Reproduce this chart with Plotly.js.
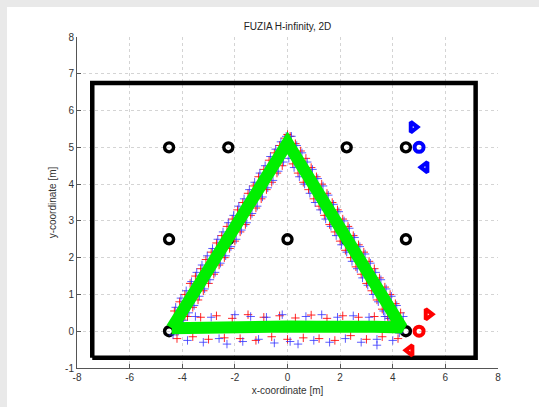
<!DOCTYPE html>
<html>
<head>
<meta charset="utf-8">
<script src="https://cdn.plot.ly/plotly-3.0.1.min.js"></script>
<style>
html,body{margin:0;padding:0;background:#e9e9e9;width:539px;height:407px;overflow:hidden;}
#plot{position:absolute;left:7px;top:7px;width:532px;height:400px;background:#fff;}
</style>
</head>
<body>
<div id="plot"></div>
<script>
// Boundary rectangle
const rectX = [-7.42, 7.15, 7.15, -7.42, -7.42];
const rectY = [-0.72, -0.72, 6.75, 6.75, -0.72];

// Black reference circles
const circX = [-4.5,-2.25,2.25,4.5, -4.5,-2.25,0,2.25,4.5, -4.5,4.5];
const circY = [5,5,5,5, 2.5,2.5,2.5,2.5,2.5, 0,0];

// Red measurements (+)
const redX = [-4.3,-4.2,-4.1,-4.0,-3.9,-3.8,-3.7,-3.6,-3.5,-3.4,-3.3,-3.2,-3.1,-3.0,-2.9,-2.8,-2.7,-2.6,-2.5,-2.4,-2.3,-2.2,-2.1,-2.0,-1.9,-1.8,-1.7,-1.6,-1.5,-1.4,-1.3,-1.2,-1.1,-1.0,-0.9,-0.8,-0.7,-0.6,-0.5,-0.4,-0.3,-0.2,-0.1,0.0,
  0.1,0.2,0.3,0.4,0.5,0.6,0.7,0.8,0.9,1.0,1.1,1.2,1.3,1.4,1.5,1.6,1.7,1.8,1.9,2.0,2.1,2.2,2.3,2.4,2.5,2.6,2.7,2.8,2.9,3.0,3.1,3.2,3.3,3.4,3.5,3.6,3.7,3.8,3.9,4.0,4.1,4.2,4.3,
  -4.2,-3.9,-3.6,-3.3,-3.0,-2.7,-2.4,-2.1,-1.8,-1.5,-1.2,-0.9,-0.6,-0.3,0.0,0.3,0.6,0.9,1.2,1.5,1.8,2.1,2.4,2.7,3.0,3.3,3.6,3.9,4.2];
const redY = [0.55,0.0,0.8,0.2,1.0,0.4,1.3,0.65,1.5,0.85,1.7,1.1,1.95,1.3,2.15,1.55,2.4,1.8,2.6,2.0,2.85,2.25,3.05,2.45,3.3,2.7,3.5,2.9,3.75,3.15,3.95,3.35,4.2,3.6,4.4,3.85,4.65,4.05,4.85,4.3,5.05,4.5,5.25,5.35,
  5.3,4.55,5.1,4.3,4.9,4.05,4.7,3.85,4.45,3.6,4.2,3.4,4.0,3.15,3.75,2.9,3.5,2.7,3.3,2.45,3.05,2.2,2.85,2.0,2.6,1.75,2.35,1.55,2.15,1.3,1.9,1.1,1.7,0.85,1.45,0.6,1.2,0.4,1.0,0.2,0.75,0.05,0.5,
  -0.2,0.4,-0.15,0.38,-0.22,0.42,-0.18,0.35,-0.2,0.45,-0.25,0.38,-0.15,0.42,-0.22,0.36,-0.18,0.44,-0.2,0.35,-0.25,0.42,-0.12,0.38,-0.22,0.4,-0.15,0.35,-0.2];

// Blue measurements (+)
const blueX = [-4.35,-4.25,-4.15,-4.05,-3.95,-3.85,-3.75,-3.65,-3.55,-3.45,-3.35,-3.25,-3.15,-3.05,-2.95,-2.85,-2.75,-2.65,-2.55,-2.45,-2.35,-2.25,-2.15,-2.05,-1.95,-1.85,-1.75,-1.65,-1.55,-1.45,-1.35,-1.25,-1.15,-1.05,-0.95,-0.85,-0.75,-0.65,-0.55,-0.45,-0.35,-0.25,-0.15,-0.05,
  0.05,0.15,0.25,0.35,0.45,0.55,0.65,0.75,0.85,0.95,1.05,1.15,1.25,1.35,1.45,1.55,1.65,1.75,1.85,1.95,2.05,2.15,2.25,2.35,2.45,2.55,2.65,2.75,2.85,2.95,3.05,3.15,3.25,3.35,3.45,3.55,3.65,3.75,3.85,3.95,4.05,4.15,4.25,4.4,
  -4.1,-3.8,-3.5,-3.2,-2.9,-2.6,-2.3,-2.0,-1.7,-1.4,-1.1,-0.8,-0.5,-0.2,0.1,0.4,0.7,1.0,1.3,1.6,1.9,2.2,2.5,2.8,3.1,3.4,3.4,3.7,4.0];
const blueY = [-0.1,0.65,0.0,0.9,0.3,1.1,0.5,1.35,0.7,1.6,0.95,1.8,1.15,2.05,1.4,2.25,1.6,2.5,1.85,2.7,2.05,2.95,2.3,3.15,2.5,3.4,2.75,3.6,2.95,3.85,3.2,4.05,3.4,4.3,3.65,4.5,3.9,4.75,4.1,4.95,4.35,5.15,4.6,5.3,
  4.7,5.3,4.45,5.05,4.2,4.85,4.0,4.6,3.75,4.4,3.5,4.15,3.3,3.95,3.05,3.7,2.85,3.45,2.6,3.25,2.35,3.0,2.15,2.8,1.9,2.55,1.7,2.3,1.45,2.1,1.25,1.85,1.0,1.6,0.8,1.4,0.55,1.15,0.35,0.95,0.1,0.7,-0.05,0.4,
  0.42,-0.25,0.4,-0.3,0.38,-0.2,-0.35,0.45,-0.28,0.4,-0.22,0.38,-0.32,0.45,-0.28,-0.35,0.4,-0.25,0.45,-0.3,0.38,-0.2,0.42,-0.3,0.38,-0.22,-0.38,0.4,-0.25];

// Estimated trajectory (green)
const pathX = [-4.4,-3.85,-3.3,-2.75,-2.2,-1.65,-1.1,-0.55,0.0,0.55,1.1,1.65,2.2,2.75,3.3,3.85,4.35,3.3,2.2,1.1,0.0,-1.1,-2.2,-3.3,-4.4];
const pathY = [0.08,0.72,1.35,1.95,2.6,3.2,3.85,4.5,5.12,4.48,3.85,3.2,2.58,1.95,1.3,0.68,0.1,0.12,0.08,0.12,0.13,0.1,0.1,0.12,0.08];

// Agent markers
const blueMX = [4.77, 5.0, 5.23];
const blueMY = [5.55, 5.0, 4.46];
const blueSym = ['triangle-right-open','circle-open','triangle-left-open'];
const redMX = [5.34, 5.0, 4.66];
const redMY = [0.46, 0.0, -0.52];
const redSym = ['triangle-right-open','circle-open','triangle-left-open'];

const xTicks = [-8,-6,-4,-2,0,2,4,6,8];
const yTicks = [-1,0,1,2,3,4,5,6,7,8];

const traces = [
  {x: rectX, y: rectY, mode:'lines', line:{color:'#000', width:4.5}, hoverinfo:'skip'},
  {x: circX, y: circY, mode:'markers', marker:{symbol:'circle-open', size:9, color:'#000', line:{width:3.4, color:'#000'}}},
  {x: redX, y: redY, mode:'markers', marker:{symbol:'cross-thin-open', size:6, color:'rgba(255,0,0,0.85)', line:{width:1, color:'rgba(255,0,0,0.85)'}}},
  {x: blueX, y: blueY, mode:'markers', marker:{symbol:'cross-thin-open', size:6, color:'rgba(50,50,255,0.8)', line:{width:1, color:'rgba(50,50,255,0.8)'}}},
  {x: pathX, y: pathY, mode:'lines', line:{color:'#00f000', width:12}},
  {x: blueMX, y: blueMY, mode:'markers', marker:{symbol:blueSym, size:9, color:'#0000ff', line:{width:4, color:'#0000ff'}}},
  {x: redMX, y: redMY, mode:'markers', marker:{symbol:redSym, size:9, color:'#ff0000', line:{width:4, color:'#ff0000'}}}
];

const axisCommon = {
  showline:true, linecolor:'#555', linewidth:1, mirror:false,
  showgrid:true, gridcolor:'#d4d4d4', griddash:'dot', gridwidth:1,
  zeroline:false, ticks:'inside', ticklen:4, tickcolor:'#555',
  tickfont:{family:'Liberation Sans, Arial, sans-serif', size:10, color:'#333'}
};

const layout = {
  width:532, height:400,
  paper_bgcolor:'#ffffff', plot_bgcolor:'#ffffff',
  margin:{l:70, r:41, t:30, b:39},
  showlegend:false,
  title:{text:'FUZIA H-infinity, 2D', font:{family:'Liberation Sans, Arial, sans-serif', size:10, color:'#222'},
         xref:'paper', x:0.5, xanchor:'center', yref:'container', y:0.952, yanchor:'middle'},
  xaxis: Object.assign({}, axisCommon, {range:[-8,8], tickvals:xTicks, ticktext:xTicks.map(String),
     title:{text:'x-coordinate [m]', font:{family:'Liberation Sans, Arial, sans-serif', size:10, color:'#333'}, standoff:4}}),
  yaxis: Object.assign({}, axisCommon, {range:[-1,8], tickvals:yTicks, ticktext:yTicks.map(String),
     title:{text:'y-coordinate [m]', font:{family:'Liberation Sans, Arial, sans-serif', size:10, color:'#333'}, standoff:6}})
};

Plotly.newPlot('plot', traces, layout, {staticPlot:true, displayModeBar:false});
</script>
</body>
</html>
